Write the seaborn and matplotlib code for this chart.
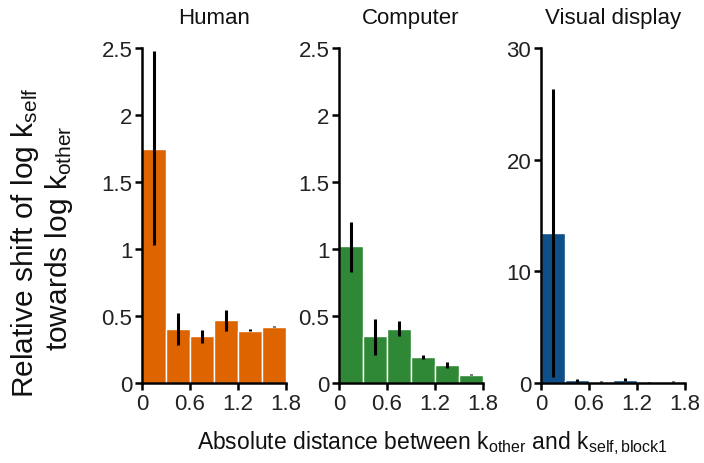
import numpy as np
import pandas as pd
import matplotlib
matplotlib.use("Agg")
import matplotlib.pyplot as plt
import seaborn as sns

sns.set_style("ticks")
plt.rcParams['font.family'] = ['Liberation Sans', 'DejaVu Sans']
plt.rcParams['mathtext.fontset'] = 'custom'
plt.rcParams['mathtext.rm'] = 'Liberation Sans'
plt.rcParams['mathtext.it'] = 'Liberation Sans'

# Data
bin_centers = [0.15, 0.45, 0.75, 1.05, 1.35, 1.65]
panels = ["Human", "Computer", "Visual display"]
human_mean = [1.75, 0.40, 0.35, 0.47, 0.39, 0.42]
human_lo = [1.03, 0.28, 0.30, 0.39, 0.385, 0.415]
human_hi = [2.48, 0.52, 0.395, 0.545, 0.40, 0.425]
computer_mean = [1.02, 0.35, 0.40, 0.195, 0.135, 0.062]
computer_lo = [0.83, 0.21, 0.35, 0.18, 0.11, 0.057]
computer_hi = [1.20, 0.48, 0.46, 0.21, 0.16, 0.067]
visual_mean = [13.4, 0.25, 0.12, 0.30, 0.05, 0.10]
visual_lo = [0.5, 0.12, 0.06, 0.15, 0.03, 0.06]
visual_hi = [26.3, 0.38, 0.16, 0.45, 0.07, 0.15]
colors = ["#DE6400", "#2E8835", "#0E4F8A"]
x_ticks = [0, 0.6, 1.2, 1.8]
x_ticklabels = ["0", "0.6", "1.2", "1.8"]
y_ticks_small = [0, 0.5, 1, 1.5, 2, 2.5]
y_ticklabels_small = ["0", "0.5", "1", "1.5", "2", "2.5"]
y_ticks_large = [0, 10, 20, 30]
y_ticklabels_large = ["0", "10", "20", "30"]

means = [human_mean, computer_mean, visual_mean]
los = [human_lo, computer_lo, visual_lo]
his = [human_hi, computer_hi, visual_hi]

fig = plt.figure(figsize=(7.04, 4.64), dpi=100)
W, H = 704, 464
lefts = [142, 339, 541]
width_px = 144
bottom_px, top_px = 384, 49

for i, name in enumerate(panels):
    ax = fig.add_axes([lefts[i] / W, 1 - bottom_px / H, width_px / W, (bottom_px - top_px) / H])
    df = pd.DataFrame({"x": bin_centers, "y": means[i]})
    sns.barplot(data=df, x="x", y="y", native_scale=True, width=1.0,
                color=colors[i], saturation=1, edgecolor="white", linewidth=1.0,
                errorbar=None, ax=ax)
    ax.vlines(bin_centers, los[i], his[i], colors="black", linewidth=2.2, zorder=5)
    ax.set_xlim(0, 1.8)
    ax.set_xticks(x_ticks)
    ax.set_xticklabels(x_ticklabels)
    if i < 2:
        ax.set_ylim(0, 2.5)
        ax.set_yticks(y_ticks_small)
        ax.set_yticklabels(y_ticklabels_small)
    else:
        ax.set_ylim(0, 30)
        ax.set_yticks(y_ticks_large)
        ax.set_yticklabels(y_ticklabels_large)
    ax.set_xlabel("")
    ax.set_ylabel("")
    ax.set_title(name, fontsize=16, pad=18, color="#111111")
    sns.despine(ax=ax)
    for s in ["left", "bottom"]:
        ax.spines[s].set_linewidth(1.8)
        ax.spines[s].set_color("black")
    ax.tick_params(axis="both", direction="out", length=5, width=1.8, labelsize=16,
                   colors="black", labelcolor="#222222", pad=2)

fig.text(25 / W, 1 - 243 / H, "Relative shift of log k$_{\\mathregular{self}}$",
         rotation=90, ha="center", va="center", fontsize=21.5, color="#111111")
fig.text(59 / W, 1 - 238 / H, "towards log k$_{\\mathregular{other}}$",
         rotation=90, ha="center", va="center", fontsize=21.5, color="#111111")
fig.text(432 / W, 1 - 443 / H,
         "Absolute distance between k$_{\\mathregular{other}}$ and k$_{\\mathregular{self,block1}}$",
         ha="center", va="center", fontsize=16.5, color="#111111")

fig.savefig("out.png", dpi=100)
